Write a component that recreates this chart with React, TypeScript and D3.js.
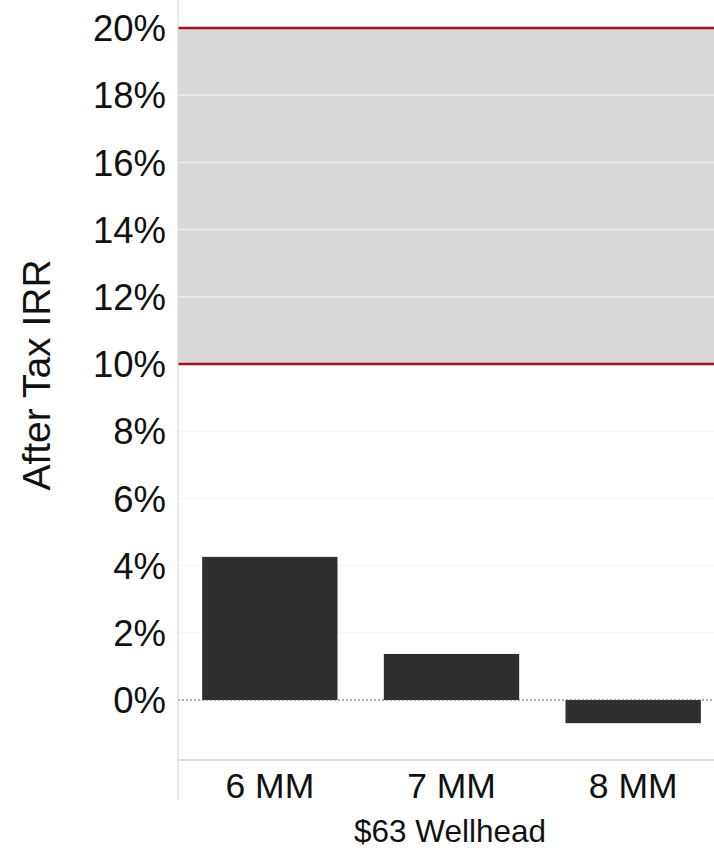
import React from "react";
import * as d3 from "d3";

const categories = ["6 MM", "7 MM", "8 MM"];
const irrValues = [0.0426, 0.0137, -0.0069];
const yTicks = [0, 0.02, 0.04, 0.06, 0.08, 0.1, 0.12, 0.14, 0.16, 0.18, 0.2];
const targetBand = [0.1, 0.2];
const xTitle = "$63 Wellhead";
const yTitle = "After Tax IRR";

const W = 714;
const H = 848;
const plot = { left: 178, right: 714, top: 0, bottom: 760 };
const font = "'Liberation Sans', Arial, sans-serif";

export default function App() {
  const y = d3
    .scaleLinear()
    .domain([-0.01786, 0.20833])
    .range([plot.bottom, plot.top]);
  // category bands run slightly past the clipped right edge
  const x = d3
    .scaleBand<string>()
    .domain(categories)
    .range([179, 724])
    .paddingInner(0.255)
    .paddingOuter(0.1275);
  const fmt = d3.format(".0%");

  return (
    <svg
      width={W}
      height={H}
      style={{ position: "absolute", left: 0, top: 0, background: "#fff" }}
      fontFamily={font}
    >
      {/* target IRR band */}
      <rect
        x={plot.left}
        y={y(targetBand[1])}
        width={plot.right - plot.left}
        height={y(targetBand[0]) - y(targetBand[1])}
        fill="#d8d8d8"
      />
      {/* gridlines */}
      {yTicks
        .filter((t) => t !== 0 && !targetBand.includes(t))
        .map((t) => (
          <line
            key={t}
            x1={plot.left}
            x2={plot.right}
            y1={y(t)}
            y2={y(t)}
            stroke={t > targetBand[0] ? "#ececec" : "#f6f6f6"}
            strokeWidth={1.5}
          />
        ))}
      {/* band edges */}
      {targetBand.map((t) => (
        <line
          key={t}
          x1={plot.left}
          x2={plot.right}
          y1={y(t)}
          y2={y(t)}
          stroke="#a3122b"
          strokeWidth={2.5}
        />
      ))}
      {/* bars */}
      {categories.map((c, i) => {
        const v = irrValues[i];
        return (
          <rect
            key={c}
            x={x(c)}
            y={y(Math.max(0, v))}
            width={x.bandwidth()}
            height={Math.abs(y(v) - y(0))}
            fill="#2e2e2e"
          />
        );
      })}
      {/* zero line */}
      <line
        x1={plot.left}
        x2={plot.right}
        y1={y(0)}
        y2={y(0)}
        stroke="#555"
        strokeWidth={1}
        strokeDasharray="2,2"
      />
      {/* axes */}
      <line x1={plot.left} x2={plot.left} y1={0} y2={800} stroke="#d4d4d4" strokeWidth={1} />
      <line x1={plot.left} x2={plot.right} y1={plot.bottom} y2={plot.bottom} stroke="#d4d4d4" strokeWidth={1.5} />
      {/* y tick labels */}
      {yTicks.map((t) => (
        <text
          key={t}
          x={166}
          y={y(t)}
          dy="0.36em"
          textAnchor="end"
          fontSize={36.5}
          fill="#111"
        >
          {fmt(t)}
        </text>
      ))}
      {/* x tick labels */}
      {categories.map((c) => (
        <text
          key={c}
          x={(x(c) ?? 0) + x.bandwidth() / 2}
          y={798}
          textAnchor="middle"
          fontSize={35.5}
          fill="#111"
        >
          {c}
        </text>
      ))}
      <text x={450} y={842} textAnchor="middle" fontSize={31.5} fill="#111">
        {xTitle}
      </text>
      <text
        transform={`translate(50, 375) rotate(-90)`}
        textAnchor="middle"
        fontSize={39}
        fill="#111"
      >
        {yTitle}
      </text>
    </svg>
  );
}
